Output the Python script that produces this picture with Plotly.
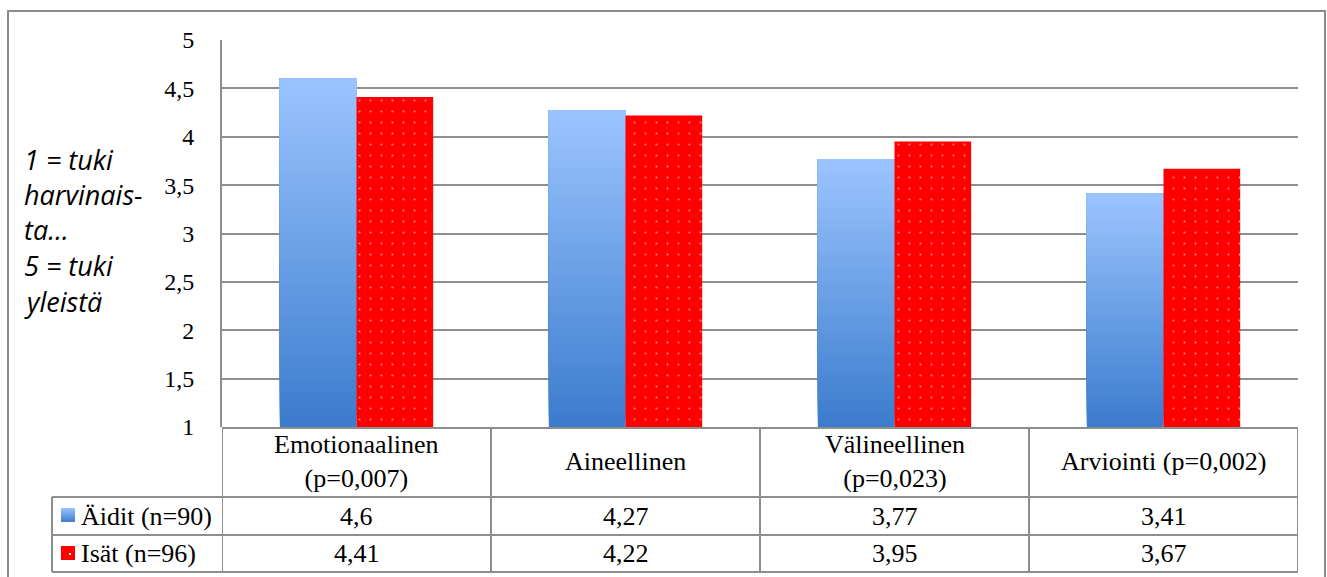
import plotly.graph_objects as go

# ---- data -------------------------------------------------------------
categories = ["Emotionaalinen<br>(p=0,007)", "Aineellinen",
              "Välineellinen<br>(p=0,023)", "Arviointi (p=0,002)"]
series_names = ["Äidit (n=90)", "Isät (n=96)"]
aidit = [4.6, 4.27, 3.77, 3.41]
isat = [4.41, 4.22, 3.95, 3.67]
y_ticks = [1, 1.5, 2, 2.5, 3, 3.5, 4, 4.5, 5]
y_tick_labels = ["1", "1,5", "2", "2,5", "3", "3,5", "4", "4,5", "5"]
y_title_lines = ["1 = tuki", "harvinais-", "ta…", "5 = tuki", "yleistä"]

# ---- geometry helpers (pixel -> paper) --------------------------------
W, H = 1327, 577
L, R, T, B = 222, 29, 40, 150
PW, PH = W - L - R, H - T - B


def px(x):
    return (x - L) / PW


def py(y):
    return (H - B - y) / PH


GRID = "#8e8e8e"
SERIF = "Liberation Serif"
BLUE_TOP = (155, 196, 255)
BLUE_BOTTOM = (60, 124, 205)


def blue_at(t):
    c = [round(b + (a - b) * t) for a, b in zip(BLUE_TOP, BLUE_BOTTOM)]
    return "rgb(%d,%d,%d)" % tuple(c)


def fmt(v):
    return ("%g" % v).replace(".", ",")


fig = go.Figure()

# mothers: vertical gradient; each layer runs from its start level up to
# the bar's value, and lighter layers are painted over darker ones
N = 60
for k in range(N):
    bases = [1 + (v - 1) * k / N for v in aidit]
    fig.add_bar(
        x=categories,
        y=[v - b for v, b in zip(aidit, bases)],
        base=bases,
        offsetgroup="aidit",
        marker=dict(color=blue_at(k / (N - 1)), line=dict(width=0)),
        showlegend=False,
        hoverinfo="skip",
    )

# fathers: red with white dot pattern
fig.add_bar(
    x=categories,
    y=isat,
    offsetgroup="isat",
    name=series_names[1],
    marker=dict(
        color="#ff0000",
        line=dict(width=0),
        pattern=dict(shape=".", fgcolor="white", bgcolor="#ff0000",
                     size=11, solidity=0.03, fillmode="overlay"),
    ),
    showlegend=False,
)

shapes = []
annotations = []

# outer chart frame
shapes.append(dict(type="rect", xref="paper", yref="paper",
                   x0=px(8), x1=px(1325), y0=py(600), y1=py(11),
                   line=dict(color="#8c8c8c", width=2), layer="below"))

# data table lines
line_style = dict(color=GRID, width=2)
row_tops = [428, 497, 535, 572]
for i, yy in enumerate(row_tops):
    shapes.append(dict(type="line", xref="paper", yref="paper",
                       x0=px(222 if i == 0 else 52), x1=px(1298),
                       y0=py(yy), y1=py(yy), line=line_style))
for b in [-0.5 + i for i in range(len(categories) + 1)]:
    shapes.append(dict(type="line", xref="x", yref="paper",
                       x0=b, x1=b, y0=py(428), y1=py(572), line=line_style))
shapes.append(dict(type="line", xref="paper", yref="paper",
                   x0=px(52), x1=px(52), y0=py(497), y1=py(572),
                   line=line_style))

TABLE_FONT = dict(family=SERIF, size=26, color="black")

# category header cells
for i, cat in enumerate(categories):
    annotations.append(dict(x=i, xref="x", y=py(461), yref="paper",
                            text=cat, showarrow=False,
                            xanchor="center", yanchor="middle",
                            font=TABLE_FONT))

# value cells
for row_y, values in zip([516, 553], [aidit, isat]):
    for i, v in enumerate(values):
        annotations.append(dict(x=i, xref="x", y=py(row_y), yref="paper",
                                text=fmt(v), showarrow=False,
                                xanchor="center", yanchor="middle",
                                font=TABLE_FONT))

# legend keys inside the table
for row_y, name in zip([516, 553], series_names):
    annotations.append(dict(x=px(79), xref="paper", y=py(row_y), yref="paper",
                            text=name, showarrow=False,
                            xanchor="left", yanchor="middle",
                            font=TABLE_FONT))
steps = 7
for s in range(steps):
    y0 = 522 - 14 * s / steps
    y1 = 522 - 14 * (s + 1) / steps
    shapes.append(dict(type="rect", xref="paper", yref="paper",
                       x0=px(61), x1=px(75), y0=py(y0), y1=py(y1),
                       fillcolor=blue_at((s + 0.5) / steps), line=dict(width=0)))
shapes.append(dict(type="rect", xref="paper", yref="paper",
                   x0=px(61), x1=px(75), y0=py(560), y1=py(546),
                   fillcolor="#ff0000", line=dict(width=0)))
shapes.append(dict(type="rect", xref="paper", yref="paper",
                   x0=px(69), x1=px(71), y0=py(555), y1=py(553),
                   fillcolor="white", line=dict(width=0)))

# y axis title, one line at a time
for j, txt in enumerate(y_title_lines):
    annotations.append(dict(x=px(22), xref="paper", y=py(159 + 35.5 * j),
                            yref="paper", text=txt, showarrow=False,
                            xanchor="left", yanchor="middle",
                            font=dict(family="Open Sans", size=27,
                                      style="italic", color="black")))

fig.update_layout(
    width=W, height=H,
    margin=dict(l=L, r=R, t=T, b=B, pad=0),
    paper_bgcolor="white", plot_bgcolor="white",
    barmode="group", bargap=0.43, bargroupgap=0,
    showlegend=False,
    shapes=shapes, annotations=annotations,
    xaxis=dict(range=[-0.5, len(categories) - 0.5], showticklabels=False,
               showgrid=False, zeroline=False, showline=False, ticks=""),
    yaxis=dict(range=[1, 5], tickvals=y_ticks, ticktext=y_tick_labels,
               showgrid=True, gridcolor=GRID, gridwidth=2, zeroline=False,
               showline=True, linecolor=GRID, linewidth=2, ticks="",
               ticklabelstandoff=21,
               tickfont=dict(family=SERIF, size=24, color="black")),
)

fig.write_html("out.html")
